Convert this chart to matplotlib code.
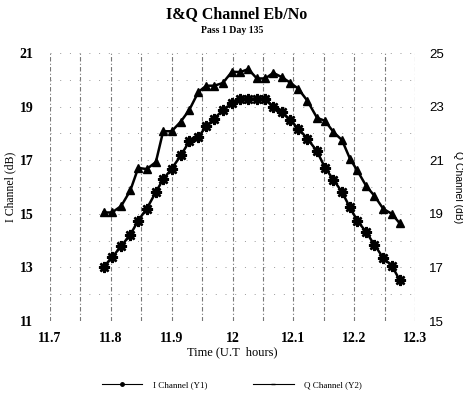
import matplotlib
matplotlib.use("Agg")
import matplotlib.pyplot as plt
from matplotlib.lines import Line2D

# Time in UT hours
time_ut = [11.788, 11.802, 11.817, 11.832, 11.845, 11.859, 11.874, 11.886,
           11.900, 11.915, 11.929, 11.944, 11.957, 11.970, 11.984, 11.999,
           12.013, 12.026, 12.040, 12.054, 12.067, 12.081, 12.095, 12.108,
           12.123, 12.139, 12.152, 12.166, 12.180, 12.193, 12.205, 12.220,
           12.233, 12.248, 12.262, 12.275]

# I channel Eb/No (dB), left axis
i_channel = [13.02, 13.37, 13.80, 14.22, 14.75, 15.19, 15.81, 16.29,
             16.68, 17.18, 17.70, 17.87, 18.27, 18.55, 18.87, 19.12,
             19.30, 19.30, 19.30, 19.30, 18.99, 18.80, 18.49, 18.18,
             17.81, 17.33, 16.72, 16.27, 15.81, 15.24, 14.75, 14.31,
             13.85, 13.35, 13.06, 12.52]

# Q channel Eb/No (dB), right axis
q_channel = [19.05, 19.05, 19.29, 19.87, 20.71, 20.67, 20.93, 22.08,
             22.08, 22.44, 22.88, 23.55, 23.78, 23.78, 23.88, 24.30,
             24.29, 24.40, 24.05, 24.05, 24.26, 24.10, 23.89, 23.67,
             23.22, 22.58, 22.47, 22.05, 21.75, 21.06, 20.62, 20.03,
             19.68, 19.18, 19.00, 18.64]

x_ticks = [11.7, 11.8, 11.9, 12.0, 12.1, 12.2, 12.3]
x_tick_labels = ["11.7", "11.8", "11.9", "12", "12.1", "12.2", "12.3"]
y1_ticks = [11, 13, 15, 17, 19, 21]
y2_ticks = [15, 17, 19, 21, 23, 25]

SERIF = "Liberation Serif"
SANS = "Liberation Sans"

fig = plt.figure(figsize=(4.64, 4.01), dpi=100)
ax = fig.add_axes([0.1078, 0.1995, 0.7866, 0.6683])
ax2 = ax.twinx()

ax.set_xlim(11.7, 12.3)
ax.set_ylim(11, 21)
ax2.set_ylim(15, 25)

# background grid: dash-dot verticals every 0.05 h, sparse dotted rows every 1 dB
for k in range(13):
    gx = 11.7 + 0.05 * k
    ax.axvline(gx, color="#777777", lw=0.8, ls=(0, (4, 2, 1, 2)), zorder=0)
for gy in range(11, 22):
    ax.axhline(gy, color="#9a9a9a", lw=0.7, ls=(0, (1, 9)), zorder=0)

ax.plot(time_ut, i_channel, color="black", lw=1.8, marker=(8, 2, 0),
        ms=8, mew=1.8, zorder=3)
ax2.plot(time_ut, q_channel, color="black", lw=1.8, marker="^",
         ms=5.8, zorder=3)

for a in (ax, ax2):
    for s in a.spines.values():
        s.set_visible(False)
    a.tick_params(length=0)

ax.set_xticks(x_ticks)
ax.set_xticklabels(x_tick_labels, fontfamily=SERIF, fontweight="bold", fontsize=10)
ax.tick_params(axis="x", pad=8)
ax.set_yticks(y1_ticks)
ax.set_yticklabels([str(v) for v in y1_ticks], fontfamily=SERIF,
                   fontweight="bold", fontsize=10)
ax.tick_params(axis="y", pad=12)
ax2.set_yticks(y2_ticks)
ax2.set_yticklabels([str(v) for v in y2_ticks], fontfamily=SANS, fontsize=9.5)
ax2.tick_params(axis="y", pad=10)

ax.set_xlabel("Time (U.T  hours)", fontfamily=SERIF, fontsize=9, labelpad=1)
ax.set_ylabel("I Channel (dB)", fontfamily=SERIF, fontsize=8.5, labelpad=2)
ax2.set_ylabel("Q Channel (dB)", fontfamily=SANS, fontsize=7.5,
               rotation=-90, labelpad=14)

fig.text(0.51, 0.965, "I&Q Channel Eb/No", ha="center", va="center",
         fontfamily=SERIF, fontweight="bold", fontsize=11.5)
fig.text(0.5, 0.925, "Pass 1 Day 135", ha="center", va="center",
         fontfamily=SERIF, fontweight="bold", fontsize=7)

handles = [
    Line2D([], [], color="black", lw=0.8, marker="o", ms=2.5),
    Line2D([], [], color="black", lw=0.8, marker="_", ms=3),
]
fig.legend(handles, ["I Channel (Y1)", "Q Channel (Y2)"], loc="center",
           bbox_to_anchor=(0.5, 0.04), ncol=2, frameon=False,
           prop={"family": SERIF, "size": 6.5}, handlelength=4.5,
           columnspacing=5, handletextpad=1.2)

fig.savefig("out.png", dpi=100)
